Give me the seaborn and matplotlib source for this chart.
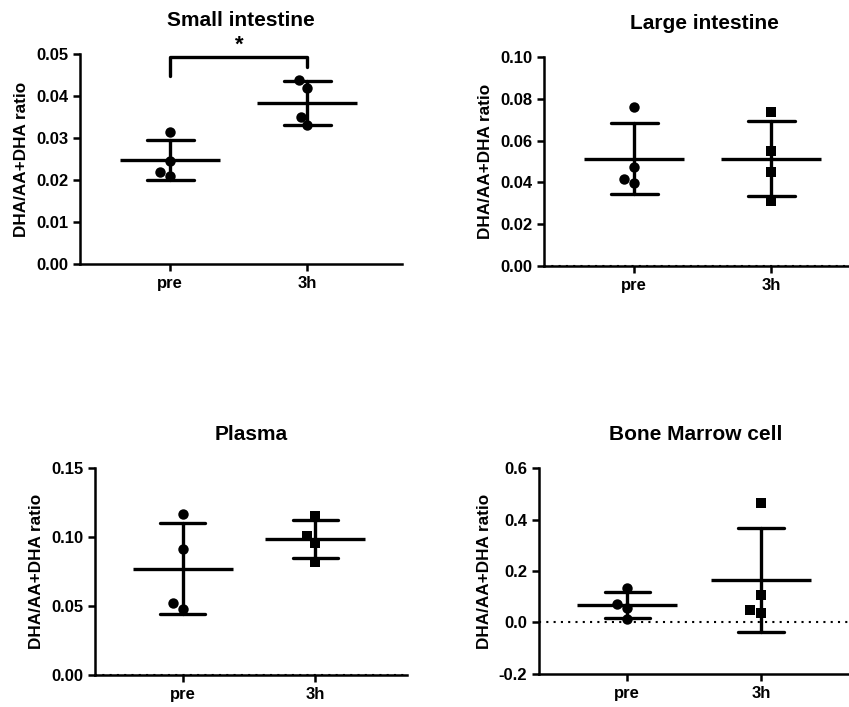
import pandas as pd
import numpy as np
import matplotlib
matplotlib.use('Agg')
import matplotlib.pyplot as plt
import seaborn as sns

# 読み取った値
groups = ['pre', '3h']

small_pre = [0.0315, 0.0245, 0.0220, 0.0210]
small_3h = [0.0437, 0.0420, 0.0350, 0.0330]

large_pre = [0.0762, 0.0473, 0.0415, 0.0398]
large_3h = [0.0737, 0.0552, 0.0451, 0.0310]

plasma_pre = [0.1170, 0.0910, 0.0520, 0.0480]
plasma_3h = [0.1150, 0.1010, 0.0960, 0.0820]

bone_pre = [0.135, 0.070, 0.055, 0.012]
bone_3h = [0.465, 0.108, 0.048, 0.038]

titles = ['Small intestine', 'Large intestine', 'Plasma', 'Bone Marrow cell']
ylims = [(0, 0.05), (0, 0.10), (0, 0.15), (-0.2, 0.6)]
yticks = [np.arange(0, 0.051, 0.01), np.arange(0, 0.101, 0.02),
          np.arange(0, 0.151, 0.05), np.arange(-0.2, 0.61, 0.2)]
yfmt = ['%.2f', '%.2f', '%.2f', '%.1f']
markers_3h = ['o', 's', 's', 's']

sns.set_style('ticks', {'axes.edgecolor': 'black', 'text.color': 'black',
                        'axes.labelcolor': 'black', 'xtick.color': 'black',
                        'ytick.color': 'black'})
plt.rcParams['font.family'] = ['Liberation Sans', 'DejaVu Sans']
plt.rcParams['font.weight'] = 'bold'

fig = plt.figure(figsize=(8.49, 7.07), dpi=100)
positions = [
    [0.0942, 0.6266, 0.379, 0.297],
    [0.6407, 0.6238, 0.379, 0.2956],
    [0.1119, 0.0453, 0.3675, 0.2927],
    [0.6350, 0.0467, 0.3700, 0.2913],
]

data_sets = [(small_pre, small_3h), (large_pre, large_3h),
             (plasma_pre, plasma_3h), (bone_pre, bone_3h)]

lw = 2.4
for i, (pre, post) in enumerate(data_sets):
    ax = fig.add_axes(positions[i])
    df = pd.DataFrame({'group': ['pre'] * len(pre) + ['3h'] * len(post),
                       'value': pre + post})

    if i > 0:
        ax.axhline(0, color='black', ls=(0, (1, 2.5)), lw=1.5, zorder=1)

    sns.swarmplot(data=df[df.group == 'pre'], x='group', y='value', order=groups,
                  color='black', marker='o', size=7.5, ax=ax, zorder=3)
    sns.swarmplot(data=df[df.group == '3h'], x='group', y='value', order=groups,
                  color='black', marker=markers_3h[i], size=7.5, ax=ax, zorder=3)

    # 平均 ± SD
    sns.pointplot(data=df, x='group', y='value', order=groups, errorbar='sd',
                  color='black', capsize=0.34, linestyle='none', marker='_',
                  markersize=72, markeredgewidth=lw, err_kws={'linewidth': lw},
                  ax=ax, zorder=4)

    ax.set_xlim(-0.66, 1.69)
    ax.set_ylim(*ylims[i])
    ax.set_yticks(yticks[i])
    ax.yaxis.set_major_formatter(matplotlib.ticker.FormatStrFormatter(yfmt[i]))
    ax.set_xlabel('')
    ax.set_ylabel('DHA/AA+DHA ratio', fontsize=12.3, fontweight='bold', labelpad=5)
    ax.set_title(titles[i], fontsize=15, fontweight='bold', pad=20)
    ax.tick_params(axis='both', labelsize=12, width=1.8, length=5, color='black',
                   labelcolor='black')
    for lab in ax.get_xticklabels() + ax.get_yticklabels():
        lab.set_fontweight('bold')
    sns.despine(ax=ax)
    ax.spines['left'].set_linewidth(1.8)
    ax.spines['bottom'].set_linewidth(1.8)
    ax.spines['left'].set_zorder(5)

    if i == 0:
        ax.plot([0, 0, 1, 1], [0.0448, 0.0492, 0.0492, 0.0470], color='black',
                lw=lw, clip_on=False, zorder=5)
        ax.text(0.5, 0.0521, '*', ha='center', va='center', fontsize=16,
                fontweight='bold')

fig.savefig('out.png', dpi=100)
